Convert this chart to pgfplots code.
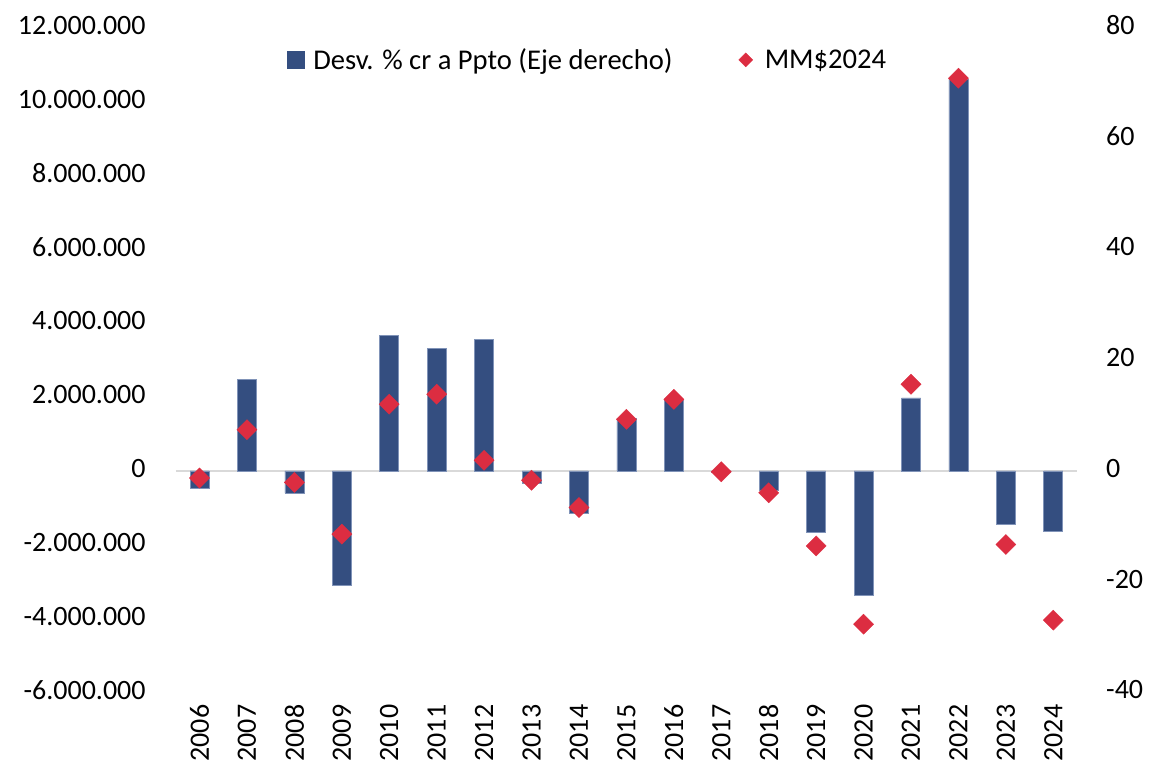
\documentclass[border=0pt]{standalone}
\usepackage{fontspec}
\setmainfont{Carlito}
\usepackage{pgfplots}
\pgfplotsset{compat=1.18}
\definecolor{barblue}{HTML}{344E80}
\definecolor{baredge}{HTML}{8093B8}
\definecolor{diamred}{HTML}{DC2D41}
\definecolor{zerogray}{HTML}{D9D9D9}
\newcommand{\lbl}{\fontsize{28bp}{32bp}\selectfont}
\newcommand{\lgd}{\fontsize{28.6bp}{32bp}\selectfont}
\begin{document}
\begin{tikzpicture}
\path[use as bounding box] (0,0) rectangle (1151bp,771bp);
\begin{axis}[
  at={(175.8bp,78.5bp)}, anchor=south west,
  scale only axis, width=901.2bp, height=664.5bp,
  xmin=-0.5, xmax=18.5, ymin=-40, ymax=80,
  ytick={-40,-20,0,20,40,60,80},
  yticklabel pos=right,
  xtick={0,1,2,3,4,5,6,7,8,9,10,11,12,13,14,15,16,17,18},
  xticklabels={2006,2007,2008,2009,2010,2011,2012,2013,2014,2015,2016,2017,2018,2019,2020,2021,2022,2023,2024},
  axis line style={draw=none}, major tick length=0pt,
  tick label style={font=\lbl},
  yticklabel style={anchor=west, inner sep=0pt, xshift=29bp, yshift=2.5bp},
  xticklabel style={rotate=90, anchor=east, inner xsep=12bp, inner ysep=0pt},
  /pgf/number format/assume math mode=true,
]
\addplot[draw=zerogray, line width=1.5bp, forget plot] coordinates {(-0.5,0) (18.5,0)};
\addplot[ybar, bar width=19bp, fill=barblue, draw=baredge, line width=0.6bp] coordinates {
(0,-3.1) (1,16.6) (2,-4.0) (3,-20.6) (4,24.5) (5,22.2) (6,23.8) (7,-2.2) (8,-7.7) (9,9.5)
(10,12.9) (11,-0.2) (12,-3.4) (13,-11.1) (14,-22.4) (15,13.2) (16,70.8) (17,-9.7) (18,-10.9)};
\end{axis}
\begin{axis}[
  at={(175.8bp,78.5bp)}, anchor=south west,
  scale only axis, width=901.2bp, height=664.5bp,
  xmin=-0.5, xmax=18.5, ymin=-6000000, ymax=12000000,
  ytick={-6000000,-4000000,-2000000,0,2000000,4000000,6000000,8000000,10000000,12000000},
  yticklabel pos=left,
  xtick=\empty,
  scaled y ticks=false,
  /pgf/number format/.cd, fixed, 1000 sep={.}, assume math mode=true, /pgfplots/.cd,
  axis line style={draw=none}, major tick length=0pt,
  tick label style={font=\lbl},
  yticklabel style={anchor=east, inner sep=0pt, xshift=-30bp, yshift=2.5bp},
  legend columns=2,
  legend style={draw=none, fill=none, at={(0.12,0.952)}, anchor=west, font=\lgd,
    /tikz/every even column/.append style={column sep=64bp}},
  legend cell align=left,
]
\addlegendimage{legend image code/.code={\path[draw=none,fill=none] (0bp,0bp) -- (24bp,0bp);\fill[barblue] (0bp,-8.5bp) rectangle (17bp,8.5bp);}}
\addlegendentry{Desv. \% cr a Ppto (Eje derecho)}
\addplot[only marks, mark=square*, mark size=7.1bp, color=diamred,
  mark options={rotate=45, fill=diamred, draw=none},
  legend image code/.code={\path[draw=none,fill=none] (0bp,0bp) -- (24bp,0bp);\fill[diamred] (0bp,0bp) -- (7bp,7bp) -- (14bp,0bp) -- (7bp,-7bp) -- cycle;}]
coordinates {
(0,-190000) (1,1120000) (2,-310000) (3,-1710000) (4,1810000) (5,2080000) (6,290000)
(7,-250000) (8,-990000) (9,1400000) (10,1940000) (11,-20000) (12,-590000) (13,-2030000)
(14,-4150000) (15,2350000) (16,10640000) (17,-1990000) (18,-4040000)};
\addlegendentry{MM\$2024}
\end{axis}
\end{tikzpicture}
\end{document}
